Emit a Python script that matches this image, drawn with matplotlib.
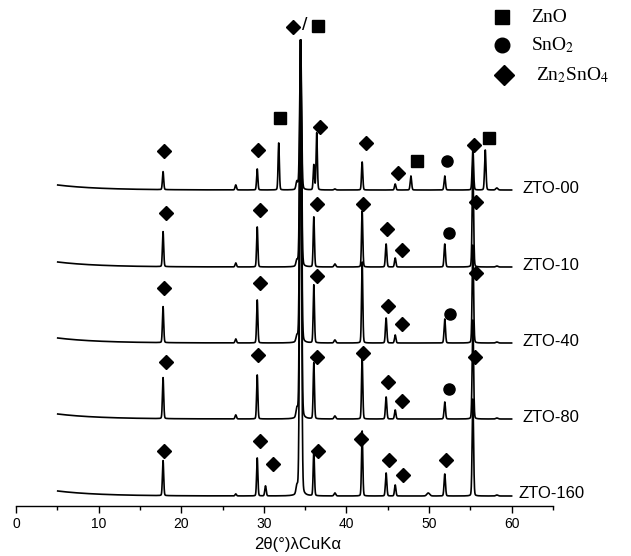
import numpy as np
import matplotlib
matplotlib.use('Agg')
import matplotlib.pyplot as plt

plt.rcParams['font.family'] = ['Liberation Sans', 'DejaVu Sans']
plt.rcParams['mathtext.fontset'] = 'stix'

# ---------------- data ----------------
samples = ['ZTO-00', 'ZTO-10', 'ZTO-40', 'ZTO-80', 'ZTO-160']
offsets = [316, 239, 163, 87, 10]          # vertical stacking offsets (a.u.)

peak_pos = [17.8, 26.6, 29.2, 30.2, 31.8, 34.0, 34.45, 36.05, 36.4, 38.6,
            41.9, 44.8, 45.9, 47.8, 49.9, 51.9, 55.3, 56.8, 58.2]
peak_fwhm = [0.18, 0.2, 0.18, 0.2, 0.18, 0.25, 0.26, 0.18, 0.18, 0.25,
             0.18, 0.2, 0.2, 0.2, 0.4, 0.2, 0.2, 0.2, 0.3]

h_zto00 = [18, 5, 21, 0, 47, 8, 150, 25, 57, 1, 28, 0, 6, 14, 0, 14, 43, 40, 2]
h_zto10 = [35, 4, 40, 0, 0, 6, 227, 50, 0, 3, 56, 23, 9, 0, 0, 23, 102, 0, 1]
h_zto40 = [36, 4, 43, 0, 0, 6, 303, 58, 0, 3, 81, 25, 8, 0, 0, 24, 98, 0, 1]
h_zto80 = [41, 4, 44, 0, 0, 9, 379, 56, 0, 3, 61, 22, 9, 0, 0, 17, 99, 0, 1]
h_zto160 = [35, 2, 38, 10, 0, 8, 456, 45, 0, 3, 65, 23, 11, 0, 3, 22, 97, 0, 1]
heights = [h_zto00, h_zto10, h_zto40, h_zto80, h_zto160]

# phase markers: (phase, 2theta, y)
marks_zto00 = [('Zn2SnO4', 17.9, 355), ('Zn2SnO4', 29.3, 356), ('ZnO', 31.9, 388),
               ('Zn2SnO4', 36.8, 379), ('Zn2SnO4', 42.4, 363), ('Zn2SnO4', 46.2, 333),
               ('ZnO', 48.5, 345), ('SnO2', 52.2, 345), ('Zn2SnO4', 55.4, 361),
               ('ZnO', 57.3, 368)]
marks_zto10 = [('Zn2SnO4', 18.1, 293), ('Zn2SnO4', 29.5, 296), ('Zn2SnO4', 36.4, 302),
               ('Zn2SnO4', 42.0, 302), ('Zn2SnO4', 44.9, 277), ('Zn2SnO4', 46.7, 256),
               ('SnO2', 52.4, 273), ('Zn2SnO4', 55.7, 304)]
marks_zto40 = [('Zn2SnO4', 17.9, 218), ('Zn2SnO4', 29.5, 223), ('Zn2SnO4', 36.4, 230),
               ('Zn2SnO4', 45.0, 200), ('Zn2SnO4', 46.7, 182), ('SnO2', 52.5, 192),
               ('Zn2SnO4', 55.7, 233)]
marks_zto80 = [('Zn2SnO4', 18.1, 144), ('Zn2SnO4', 29.3, 151), ('Zn2SnO4', 36.4, 149),
               ('Zn2SnO4', 42.0, 153), ('Zn2SnO4', 45.0, 124), ('Zn2SnO4', 46.7, 105),
               ('SnO2', 52.4, 117), ('Zn2SnO4', 55.6, 149)]
marks_zto160 = [('Zn2SnO4', 17.9, 55), ('Zn2SnO4', 29.5, 65), ('Zn2SnO4', 31.1, 42),
                ('Zn2SnO4', 36.5, 55), ('Zn2SnO4', 41.8, 67), ('Zn2SnO4', 45.2, 46),
                ('Zn2SnO4', 46.8, 31), ('Zn2SnO4', 52.1, 46)]
marks = [marks_zto00, marks_zto10, marks_zto40, marks_zto80, marks_zto160]
top_marks = [('Zn2SnO4', 33.5, 479), ('ZnO', 36.5, 480)]

phases = ['ZnO', 'SnO2', 'Zn2SnO4']
phase_labels = ['ZnO', 'SnO$_2$', 'Zn$_2$SnO$_4$']

# ---------------- styles ----------------
mstyle = {'ZnO': dict(marker='s', ms=8.6),
          'SnO2': dict(marker='o', ms=8.0),
          'Zn2SnO4': dict(marker='D', ms=7.6)}

W, H = 631, 556
fig = plt.figure(figsize=(W / 100, H / 100), dpi=100)
ax = fig.add_axes([16 / W, 50 / H, 537 / W, 506 / H])

x = np.arange(5.05, 60.0, 0.01)


def pattern(hs):
    y = np.zeros_like(x)
    for p, w, h in zip(peak_pos, peak_fwhm, hs):
        if h <= 0:
            continue
        g = np.exp(-4 * np.log(2) * ((x - p) / w) ** 2)
        l = 1.0 / (1.0 + 4 * ((x - p) / w) ** 2)
        y += h * (0.88 * g + 0.12 * l)
    return y


for name, off, hs, mk in zip(samples, offsets, heights, marks):
    bg = 5.0 * np.exp(-(x - 5.05) / 5.0)
    ax.plot(x, off + bg + pattern(hs), color='black', lw=1.2, zorder=2)
    for ph, px, py in mk:
        ax.plot(px, py, linestyle='none', color='black', zorder=3, **mstyle[ph])
    ax.text(61.3 if name != 'ZTO-160' else 60.8, off + 2, name,
            fontsize=12, ha='left', va='center')

for ph, px, py in top_marks:
    ax.plot(px, py, linestyle='none', color='black', zorder=3, clip_on=False, **mstyle[ph])
ax.text(34.95, 480, '/', fontsize=14, ha='center', va='center')

# legend (manual)
leg_y = [489, 461, 431]
leg_mx = [58.8, 58.8, 59.1]
leg_tx = [62.3, 62.3, 63.0]
leg_ms = {'ZnO': 10.5, 'SnO2': 10.5, 'Zn2SnO4': 10.5}
for ph, lab, ly, mx, tx in zip(phases, phase_labels, leg_y, leg_mx, leg_tx):
    st = dict(mstyle[ph])
    st['ms'] = leg_ms[ph]
    ax.plot(mx, ly, linestyle='none', color='black', clip_on=False, **st)
    ax.text(tx, ly, lab, fontsize=14, family='Liberation Serif',
            ha='left', va='center', clip_on=False)

ax.set_xlim(0, 65)
ax.set_ylim(0, 506)
for s in ['left', 'right', 'top']:
    ax.spines[s].set_visible(False)
ax.spines['bottom'].set_linewidth(1.0)
ax.set_yticks([])
ax.set_xticks([0, 10, 20, 30, 40, 50, 60])
ax.set_xticks(np.arange(5, 70, 10), minor=True)
ax.tick_params(axis='x', which='major', direction='out', length=5, width=1,
               labelsize=10, pad=3)
ax.tick_params(axis='x', which='minor', direction='out', length=3, width=1)
fig.text(298 / W, 1 - 544 / H, '2θ(°)λCuKα', fontsize=12, ha='center', va='center')

fig.savefig('out.png', dpi=100)
